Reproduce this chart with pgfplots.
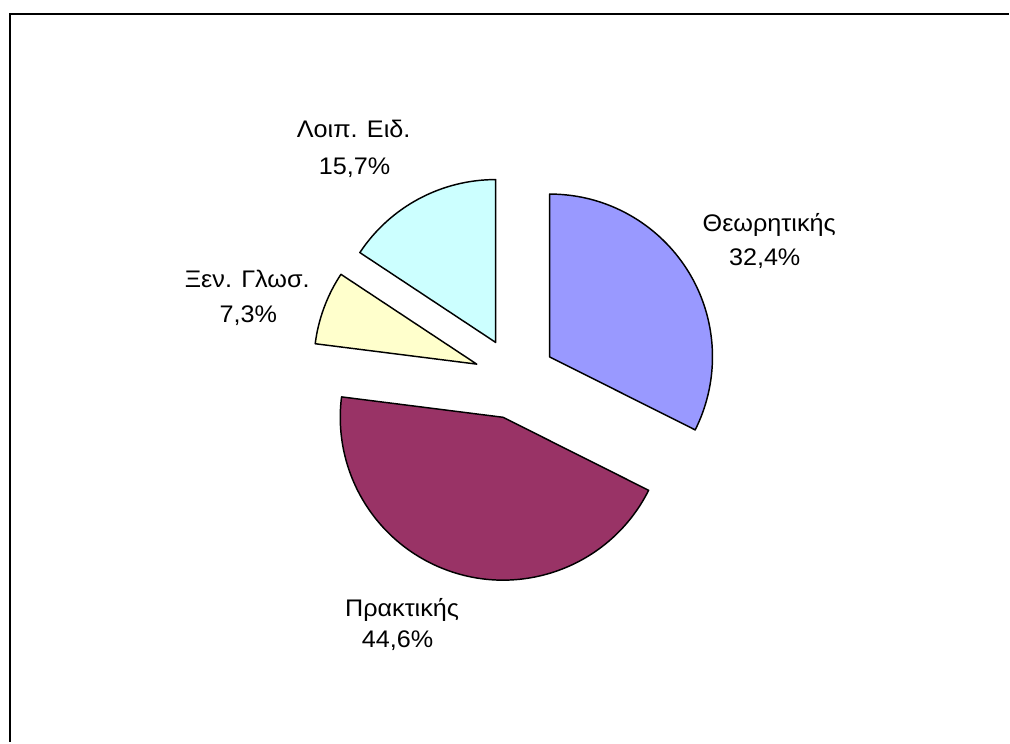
\documentclass[border=0pt]{standalone}
\usepackage{fontspec}
\setmainfont{Liberation Sans}
\usepackage{pgfplots}
\pgfplotsset{compat=1.18}
\definecolor{theo}{HTML}{9999FF}
\definecolor{prak}{HTML}{993366}
\definecolor{xen}{HTML}{FFFFCC}
\definecolor{loip}{HTML}{CCFFFF}
\begin{document}
\begin{tikzpicture}
\begin{axis}[hide axis, x=0.75pt, y=0.75pt, xmin=0, xmax=1010, ymin=0, ymax=743,
  clip=false, scale only axis]
\path (axis cs:0,0) rectangle (axis cs:1010,743);
\draw[line width=1.6pt] (axis cs:10,0) -- (axis cs:10,728.7) -- (axis cs:1010,728.7);
% data: shares in percent (clockwise from 12 o'clock)
\def\pA{32.4}\def\pB{44.6}\def\pC{7.3}\def\pD{15.7}
\def\cx{515.5}\def\cy{364.3}\def\ex{40.8}
% angles
\pgfmathsetmacro\sA{90}
\pgfmathsetmacro\eA{\sA-3.6*\pA}
\pgfmathsetmacro\eB{\eA-3.6*\pB}
\pgfmathsetmacro\eC{\eB-3.6*\pC}
\pgfmathsetmacro\eD{\eC-3.6*\pD}
\pgfmathsetmacro\mA{(\sA+\eA)/2}\pgfmathsetmacro\mB{(\eA+\eB)/2}
\pgfmathsetmacro\mC{(\eB+\eC)/2}\pgfmathsetmacro\mD{(\eC+\eD)/2}
\pgfmathsetmacro\xA{\cx+\ex*cos(\mA)}\pgfmathsetmacro\yA{\cy+\ex*sin(\mA)}
\pgfmathsetmacro\xB{\cx+\ex*cos(\mB)}\pgfmathsetmacro\yB{\cy+\ex*sin(\mB)}
\pgfmathsetmacro\xC{\cx+\ex*cos(\mC)}\pgfmathsetmacro\yC{\cy+\ex*sin(\mC)}
\pgfmathsetmacro\xD{\cx+\ex*cos(\mD)}\pgfmathsetmacro\yD{\cy+\ex*sin(\mD)}
\tikzset{wedge/.style={draw=black, line width=1.1pt, line join=round}}
\filldraw[wedge, fill=theo] (axis cs:\xA,\yA) -- ++(\sA:122.25pt) arc[start angle=\sA, end angle=\eA, radius=122.25pt] -- cycle;
\filldraw[wedge, fill=prak] (axis cs:\xB,\yB) -- ++(\eA:122.25pt) arc[start angle=\eA, end angle=\eB, radius=122.25pt] -- cycle;
\filldraw[wedge, fill=xen] (axis cs:\xC,\yC) -- ++(\eB:122.25pt) arc[start angle=\eB, end angle=\eC, radius=122.25pt] -- cycle;
\filldraw[wedge, fill=loip] (axis cs:\xD,\yD) -- ++(\eC:122.25pt) arc[start angle=\eC, end angle=\eD, radius=122.25pt] -- cycle;
% labels
\tikzset{lab/.style={anchor=base, inner sep=0pt, font=\fontsize{18}{21}\selectfont, xscale=1.05}}
\node[lab] at (axis cs:770,511.5) {Θεωρητικής};
\node[lab] at (axis cs:765.5,477) {32,4\%};
\node[lab] at (axis cs:402.5,126) {Πρακτικής};
\node[lab] at (axis cs:398,95) {44,6\%};
\node[lab] at (axis cs:247.5,455) {Ξεν. Γλωσ.};
\node[lab] at (axis cs:248.5,420) {7,3\%};
\node[lab] at (axis cs:354,605) {Λοιπ. Ειδ.};
\node[lab] at (axis cs:355,568) {15,7\%};
\end{axis}
\end{tikzpicture}
\end{document}
